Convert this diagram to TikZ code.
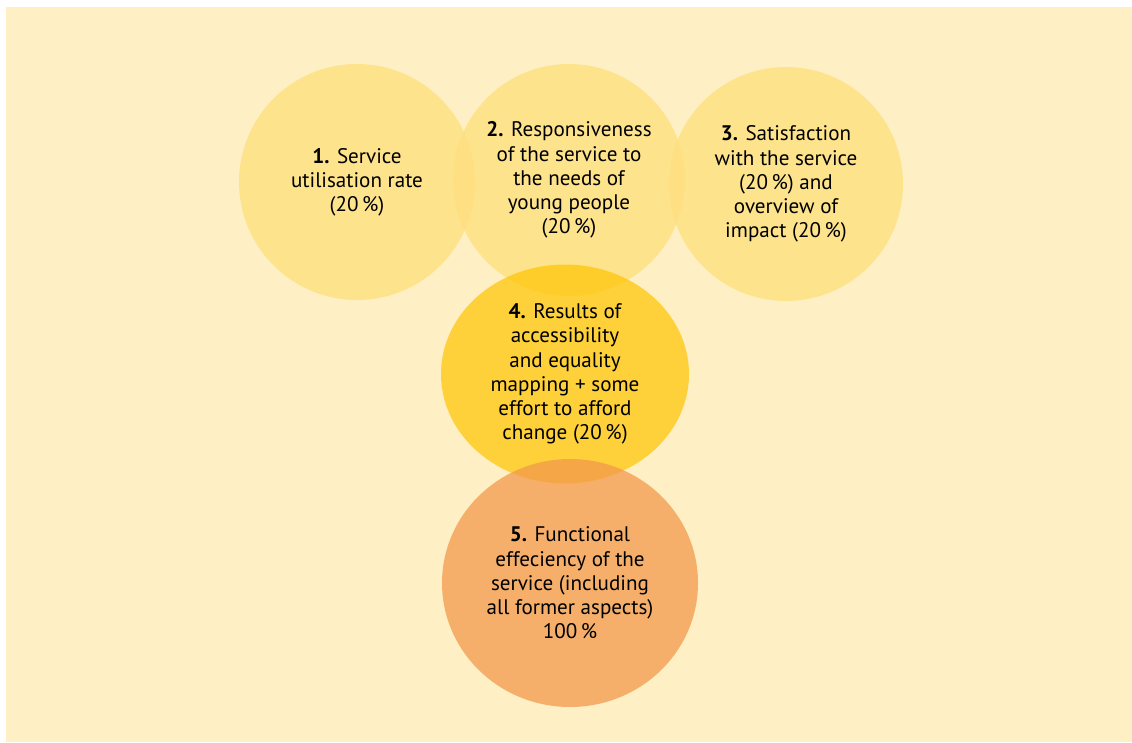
\documentclass[tikz,border=0pt]{standalone}
\usepackage{fontspec}
\setmainfont{PT Sans}
\usetikzlibrary{shapes.geometric}

\definecolor{cream}{HTML}{FEEFC4}
\definecolor{sunyellow}{RGB}{254,224,128}
\definecolor{gold}{HTML}{FFC400}
\definecolor{apricot}{HTML}{F39A4E}

\begin{document}
\begin{tikzpicture}[
        paleyellow/.style={circle, fill=sunyellow, fill opacity=0.8, text opacity=1, text=black, align=center, font=\fontsize{15}{17.2}\selectfont},
        deepyellow/.style={ellipse, fill=gold, fill opacity=0.7, text opacity=1, text=black, align=center, font=\fontsize{15}{17.2}\selectfont},
        peach/.style={ellipse, fill=apricot, fill opacity=0.75, text opacity=1, text=black, align=center, font=\fontsize{15}{17.2}\selectfont}
    ]

    % Page and background panel
    \useasboundingbox (0, 0) rectangle (28.3, 18.55);
    \fill[cream] (0.15, 0) rectangle (28.3, 18.375);

    % Top row - the three partial measures
    \node[paleyellow, minimum size=5.9cm] (util) at (8.925, 14.0) {\textbf{1.} Service\\ utilisation rate\\ (20\,\%)};
    \node[paleyellow, minimum size=5.8cm] (resp) at (14.225, 14.05) {\textbf{2.} Responsiveness\\ of the service to\\ the needs of\\ young people\\ (20\,\%)};
    \node[paleyellow, minimum size=5.85cm] (satis) at (19.65, 13.95) {\textbf{3.} Satisfaction\\ with the service\\ (20\,\%) and\\ overview of\\ impact (20\,\%)};

    % Middle - mapping
    \node[deepyellow, minimum width=6.2cm, minimum height=5.475cm] (mapping) at (14.125, 9.2) {\textbf{4.} Results of\\ accessibility\\ and equality\\ mapping + some\\ effort to afford\\ change (20\,\%)};

    % Bottom - overall result
    \node[peach, minimum width=6.4cm, minimum height=6.2cm] (effic) at (14.25, 3.975) {\textbf{5.} Functional\\ effeciency of the\\ service (including\\ all former aspects)\\ 100\,\%};

\end{tikzpicture}
\end{document}
